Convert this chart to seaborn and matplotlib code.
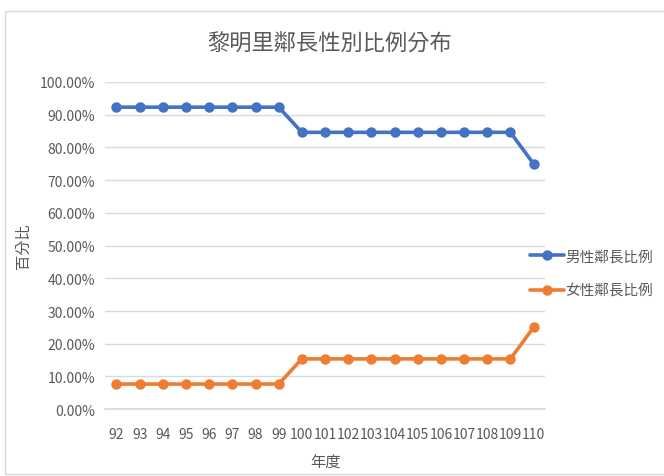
import matplotlib
matplotlib.use("Agg")
import matplotlib.pyplot as plt
import seaborn as sns
import pandas as pd
from matplotlib.patches import Rectangle
from matplotlib.ticker import FuncFormatter

years = ["92", "93", "94", "95", "96", "97", "98", "99", "100", "101", "102",
         "103", "104", "105", "106", "107", "108", "109", "110"]
male = [0.9231] * 8 + [0.8462] * 10 + [0.75]
female = [0.0769] * 8 + [0.1538] * 10 + [0.25]
series_names = ["男性鄰長比例", "女性鄰長比例"]
colors = ["#4472C4", "#ED7D31"]

sns.set_theme(style="white")
plt.rcParams['font.family'] = ['Noto Sans CJK TC', 'DejaVu Sans']

df = pd.DataFrame({
    "idx": list(range(len(years))) * 2,
    "value": male + female,
    "series": [series_names[0]] * len(years) + [series_names[1]] * len(years),
})

fig = plt.figure(figsize=(6.64, 4.77), dpi=100)
ax = fig.add_axes([0.158, 0.140, 0.663, 0.686])

sns.lineplot(data=df, x="idx", y="value", hue="series", palette=colors,
             marker="o", markersize=7.5, markeredgewidth=0, linewidth=2.6,
             ax=ax)

ax.set_xlim(-0.5, len(years) - 0.5)
ax.set_ylim(0, 1.0)
ax.set_yticks([i / 10 for i in range(11)])
ax.yaxis.set_major_formatter(FuncFormatter(lambda v, p: f"{v*100:.2f}%"))
ax.set_xticks(range(len(years)))
ax.set_xticklabels(years)
ax.grid(axis="y", color="#d9d9d9", linewidth=1)
ax.set_axisbelow(True)
for s in ["top", "right", "left"]:
    ax.spines[s].set_visible(False)
ax.spines["bottom"].set_color("#d9d9d9")
ax.tick_params(axis="both", length=0, colors="#595959", labelsize=10)
ax.tick_params(axis="x", pad=13)
ax.tick_params(axis="y", pad=7)
for lbl in ax.get_xticklabels() + ax.get_yticklabels():
    lbl.set_fontweight("light")

ax.set_xlabel("年度", color="#595959", fontsize=11, labelpad=9, fontweight="light")
ax.set_ylabel("百分比", color="#595959", fontsize=11, labelpad=6, fontweight="light")

fig.text(0.497, 0.908, "黎明里鄰長性別比例分布", ha="center", va="center",
         fontsize=16, color="#595959", fontweight="light")

leg = ax.legend(loc="center left", bbox_to_anchor=(0.79, 0.424),
                bbox_transform=fig.transFigure, frameon=False,
                fontsize=10.5, labelspacing=1.4, handlelength=2.3,
                handletextpad=0.1, borderaxespad=0)
for t in leg.get_texts():
    t.set_color("#595959")
    t.set_fontweight("light")

fig.patches.append(Rectangle((0.008, 0.004), 1.2, 0.97, transform=fig.transFigure,
                             fill=False, edgecolor="#d9d9d9", linewidth=1))

fig.savefig("out.png", dpi=100)
